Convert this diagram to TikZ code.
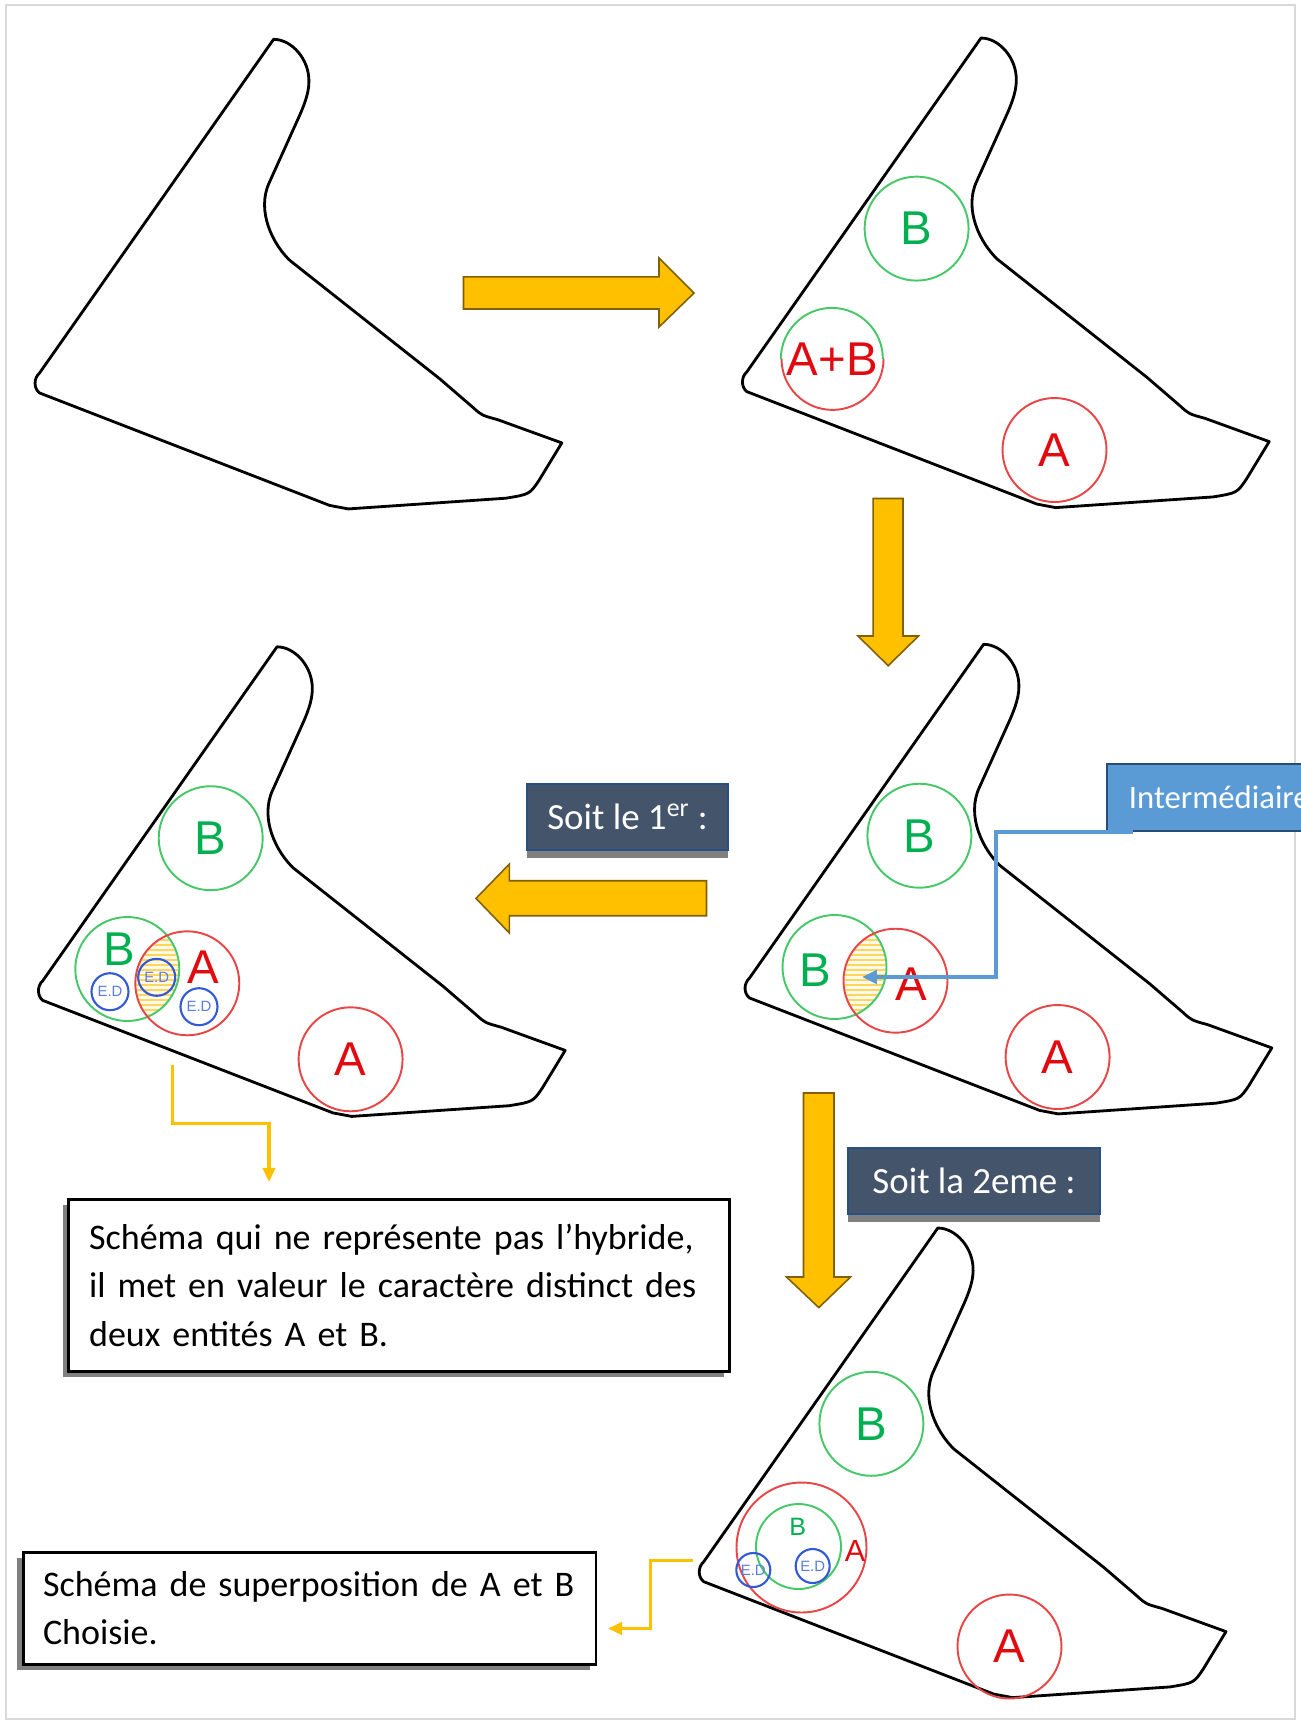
\documentclass[tikz,border=0pt]{standalone}
\usepackage{fontspec}
\setmainfont{Carlito}
\newfontfamily\labfont{Liberation Sans}
\usepackage{tikz}
\usetikzlibrary{arrows.meta, positioning, calc, shadows}
\definecolor{wgreen}{RGB}{0, 176, 80}
\definecolor{wgreenl}{RGB}{70, 200, 105}
\definecolor{wred}{RGB}{225, 10, 15}
\definecolor{wredl}{RGB}{232, 70, 70}
\definecolor{wblue}{RGB}{50, 90, 215}
\definecolor{wgold}{RGB}{255, 192, 0}
\definecolor{wgoldd}{RGB}{128, 96, 0}
\definecolor{wslate}{RGB}{68, 84, 106}
\definecolor{wslateb}{RGB}{40, 80, 130}
\definecolor{wsky}{RGB}{91, 155, 213}
\definecolor{wskyb}{RGB}{40, 75, 120}
\definecolor{wshadow}{RGB}{128, 128, 128}
\newcommand{\biglab}{\labfont\fontsize{27}{30}\selectfont}
\newcommand{\edlab}{\labfont\fontsize{8.5}{9}\selectfont}
\newcommand{\boxfont}{\fontsize{20.5}{27.6}\selectfont}

\begin{document}
\begin{tikzpicture}[x=0.02cm, y=-0.02cm, >=Stealth,
  wingline/.style={line width=1.6pt, line join=round},
  wing/.pic={\draw[wingline] (0,0) .. controls (18,0) and (36,20) .. (35.3,42.8)
      .. controls (35.3,55) and (29,69.5) .. (24.9,78.6) -- (-4.1,142.8)
      .. controls (-18,172) and (0,206) .. (16.6,221.4) -- (165.9,339.3) -- (199,367.8)
      .. controls (208,376) .. (223.9,380.3) -- (288.2,403.6) -- (265.4,441.1)
      .. controls (256,455) .. (232.2,458.9) -- (74.7,469.6) -- (56,466.1)
      -- (-234.2,353.6) .. controls (-240,349) and (-240,339) .. (-234.2,333.9) -- cycle;},
  gcirc/.style={circle, draw=wgreenl, line width=1.1pt, minimum size=2.08cm,
    inner sep=0pt, text=wgreen, font=\biglab},
  rcirc/.style={circle, draw=wredl, line width=1.1pt, minimum size=2.08cm,
    inner sep=0pt, text=wred, font=\biglab},
  edcirc/.style={circle, draw=wblue, line width=1.2pt, minimum size=0.74cm,
    inner sep=0pt, text=wblue!80, font=\edlab},
  glab/.style={text=wgreen, font=\biglab, inner sep=0pt},
  rlab/.style={text=wred, font=\biglab, inner sep=0pt},
  lensline/.style={draw=wgold!65, line width=0.8pt},
  blockarrow/.style={fill=wgold, draw=wgoldd, line width=0.9pt},
  slatebox/.style={fill=wslate, draw=wslateb, line width=1.1pt, text=white,
    font=\fontsize{21}{24}\selectfont, minimum height=1.32cm, inner sep=0pt,
    drop shadow={shadow xshift=0pt, shadow yshift=-4.5pt, fill=wshadow, opacity=1}},
  notebox/.style={fill=white, draw=black, line width=1.5pt, font=\boxfont,
    align=left, anchor=north west},
  yconn/.style={draw=wgold, line width=2pt, -{Triangle[length=8pt, width=7pt]}},
  bconn/.style={draw=wsky, line width=2pt, -{Triangle[length=8.5pt, width=7.7pt]}}]

  \useasboundingbox (0,0) rectangle (1301,1722);
  \clip (0,0) rectangle (1301,1722);
  \fill[white] (0,0) rectangle (1301,1722);

  % --- page frame ---
  \draw[gray!30, line width=1.5pt] (6,5) rectangle (1295,1719);

  % --- the five outlines ---
  \pic at (273.6,39.3) {wing};
  \pic at (981,38) {wing};
  \pic at (277,646.8) {wing};
  \pic at (983.6,644.3) {wing};
  \pic at (937.8,1228) {wing};

  % --- outline 2: B, A+B and A ---
  \node[gcirc] (b2) at (916.6,228.6) {B};
  \node[text=wred, font=\biglab, circle, minimum size=2.04cm, inner sep=0pt]
    (ab2) at (832.2,358.9) {A+B};
  \draw[wgreenl, line width=1.1pt] (ab2.west) arc[start angle=180, end angle=360, radius=51];
  \draw[wredl, line width=1.1pt] (ab2.east) arc[start angle=0, end angle=180, radius=51];
  \node[rcirc] (a2) at (1054.5,450) {A};

  % --- outline 3: hatched overlap first ---
  \coordinate (bl3c) at (127.3,969);
  \coordinate (al3c) at (187.3,983.3);
  \begin{scope}
    \clip (bl3c) circle[radius=51];
    \clip (al3c) circle[radius=51];
    \fill[wgold!8] (60,900) rectangle (260,1060);
    \foreach \k in {0,...,32}
      \draw[lensline] (60,900+5*\k) -- (260,900+5*\k);
  \end{scope}
  \node[gcirc] (b3) at (210.7,838.2) {};
  \node[glab] at (b3) {B};
  \node[gcirc] (bl3) at (bl3c) {};
  \node[rcirc] (al3) at (al3c) {};
  \node[glab] (bl3t) at (119,949) {B};
  \node[rlab] (al3t) at (203.3,967.3) {A};
  \node[edcirc] (ed31) at (110,991.7) {E.D};
  \node[edcirc] (ed32) at (156.7,977.3) {E.D};
  \node[edcirc] (ed33) at (199,1006.7) {E.D};
  \node[rcirc] (a3) at (350.6,1059.3) {A};

  % --- outline 4: hatched overlap ---
  \coordinate (bl4c) at (834.5,967);
  \coordinate (al4c) at (895.5,980.7);
  \begin{scope}
    \clip (bl4c) circle[radius=51];
    \clip (al4c) circle[radius=51];
    \fill[wgold!8] (770,900) rectangle (960,1060);
    \foreach \k in {0,...,32}
      \draw[lensline] (770,900+5*\k) -- (960,900+5*\k);
  \end{scope}
  \node[gcirc] (b4) at (919.4,835.7) {B};
  \node[gcirc] (bl4) at (bl4c) {};
  \node[rcirc] (al4) at (al4c) {};
  \node[glab] (bl4t) at (815,970) {B};
  \node[rlab] (al4t) at (911,984) {A};
  \node[rcirc] (a4) at (1057.6,1057) {A};

  % --- outline 5: nested circles ---
  \node[gcirc] (b5) at (871.4,1423.8) {B};
  \node[rcirc, minimum size=2.6cm] (al5) at (801.5,1547.5) {};
  \node[gcirc, minimum size=1.7cm] (bl5) at (798.5,1546.5) {};
  \node[text=wgreen, font=\labfont\fontsize{14.3}{15}\selectfont, inner sep=0pt]
    (bl5t) at (797.7,1526.7) {B};
  \node[text=wred, font=\labfont\fontsize{17.4}{18}\selectfont, inner sep=0pt]
    (al5t) at (855,1550.7) {A};
  \node[edcirc, minimum size=0.68cm] (ed51) at (753.3,1570) {E.D};
  \node[edcirc, minimum size=0.68cm] (ed52) at (812.7,1566) {E.D};
  \node[rcirc] (a5) at (1009.5,1646.5) {A};

  % --- block arrows ---
  \draw[blockarrow] (463.5,276.8) -- (659,276.8) -- (659,258) -- (694,293)
    -- (659,327) -- (659,309) -- (463.5,309) -- cycle;
  \draw[blockarrow] (873.2,498.5) -- (903,498.5) -- (903,636) -- (918.5,636)
    -- (888.2,665.7) -- (858,636) -- (873.2,636) -- cycle;
  \draw[blockarrow] (706.5,880.7) -- (509.4,880.7) -- (509.4,864) -- (476,898.4)
    -- (509.4,933) -- (509.4,915.7) -- (706.5,915.7) -- cycle;
  \draw[blockarrow] (803.5,1093) -- (834,1093) -- (834,1277) -- (850.5,1277)
    -- (818.8,1307.6) -- (786.5,1277) -- (803.5,1277) -- cycle;

  % --- captions ---
  \node[slatebox, minimum width=4.02cm] (soit1) at (627.5,817)
    {Soit le 1\textsuperscript{er} :};
  \node[slatebox, minimum width=5.04cm] (soit2) at (974,1181)
    {Soit la 2eme :};
  \node[fill=wsky, draw=wskyb, line width=1.1pt, text=white,
    font=\fontsize{18.6}{20}\selectfont, minimum height=1.34cm,
    inner xsep=0.44cm, anchor=west] (inter) at (1106,797.5) {Intermédiaire};

  % --- notes ---
  \node[notebox, text width=12.39cm, inner xsep=0.416cm, minimum height=3.44cm,
    drop shadow={shadow xshift=-2.8pt, shadow yshift=-3.4pt, fill=wshadow, opacity=1}]
    (note1) at (67,1198)
    {\mbox{Schéma qui ne représente pas l’hybride,}\\
     \mbox{il met en valeur le caractère distinct des}\\
     \mbox{deux entités A et B.}};
  \node[notebox, text width=10.67cm, inner xsep=0.394cm, minimum height=2.24cm,
    drop shadow={shadow xshift=-3.4pt, shadow yshift=-3.4pt, fill=wshadow, opacity=1}]
    (note2) at (22,1551)
    {\mbox{Schéma de superposition de A et B}\\
     \mbox{Choisie.}};

  % --- connectors ---
  \coordinate (y1s) at (172.4,1065);
  \coordinate (y1e) at (269,1182);
  \draw[yconn] (y1s) |- ($(y1s)!0.5!(y1e)$) -| (y1e);
  \coordinate (y2s) at (693,1560.5);
  \coordinate (y2e) at (608,1628.5);
  \draw[yconn] (y2s) -| ($(y2s)!0.5!(y2e)$) |- (y2e);
  \coordinate (lens4) at (862,977);
  \coordinate (bk4) at (996,977);
  \draw[bconn] ($(inter.south west)+(27,0)$) -| (bk4) -- (lens4);

\end{tikzpicture}
\end{document}
